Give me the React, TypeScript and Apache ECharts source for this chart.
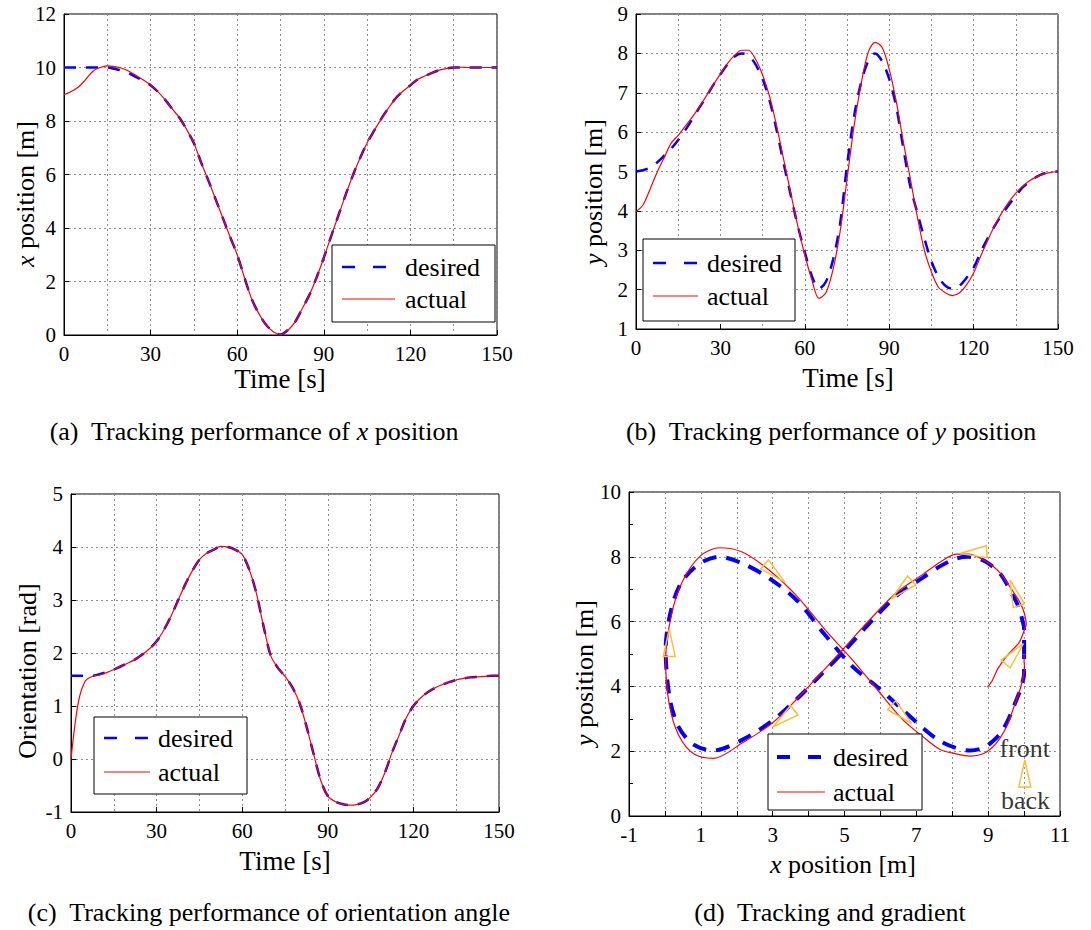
import React, { useEffect, useRef } from "react";
import * as echarts from "echarts";

const TIME = [0, 2.5, 5, 7.5, 10, 12.5, 15, 17.5, 20, 22.5, 25, 27.5, 30, 32.5, 35, 37.5, 40, 42.5, 45, 47.5, 50, 52.5, 55, 57.5, 60, 62.5, 65, 67.5, 70, 72.5, 75, 77.5, 80, 82.5, 85, 87.5, 90, 92.5, 95, 97.5, 100, 102.5, 105, 107.5, 110, 112.5, 115, 117.5, 120, 122.5, 125, 127.5, 130, 132.5, 135, 137.5, 140, 142.5, 145, 147.5, 150];

const X_DESIRED = [10, 10, 10, 10, 10, 10, 10, 9.95, 9.88, 9.78, 9.64, 9.5, 9.34, 9.1, 8.8, 8.45, 8.12, 7.68, 7.17, 6.45, 5.78, 5.08, 4.38, 3.68, 3.0, 2.15, 1.35, 0.8, 0.38, 0.13, 0.02, 0.18, 0.48, 0.98, 1.5, 2.15, 2.89, 3.68, 4.45, 5.22, 5.95, 6.6, 7.18, 7.65, 8.1, 8.5, 8.86, 9.12, 9.34, 9.55, 9.68, 9.8, 9.9, 9.96, 10, 10, 10, 10, 10, 10, 10];
const X_ACTUAL = [8.98, 9.1, 9.27, 9.55, 9.86, 10.0, 10.06, 10.03, 9.97, 9.86, 9.7, 9.53, 9.35, 9.1, 8.8, 8.45, 8.12, 7.68, 7.17, 6.45, 5.78, 5.08, 4.38, 3.68, 3.0, 2.15, 1.35, 0.8, 0.38, 0.12, 0.02, 0.17, 0.48, 0.98, 1.5, 2.15, 2.89, 3.68, 4.45, 5.22, 5.95, 6.6, 7.18, 7.65, 8.1, 8.5, 8.86, 9.12, 9.34, 9.55, 9.68, 9.8, 9.9, 9.96, 10, 10.01, 10, 10, 10, 10, 10];

const Y_DESIRED = [5.0, 5.03, 5.1, 5.23, 5.4, 5.58, 5.8, 6.05, 6.33, 6.62, 6.9, 7.2, 7.47, 7.72, 7.92, 8.0, 7.95, 7.72, 7.35, 6.8, 6.05, 5.2, 4.4, 3.62, 2.95, 2.35, 2.02, 2.2, 2.75, 3.65, 5.15, 6.4, 7.25, 7.8, 8.0, 7.8, 7.35, 6.65, 5.6, 4.62, 3.95, 3.3, 2.72, 2.32, 2.1, 2.02, 2.1, 2.3, 2.55, 2.95, 3.3, 3.62, 3.9, 4.15, 4.38, 4.6, 4.75, 4.87, 4.95, 4.99, 5.0];
const Y_ACTUAL = [3.98, 4.15, 4.55, 4.98, 5.35, 5.72, 5.92, 6.15, 6.38, 6.64, 6.92, 7.2, 7.48, 7.74, 7.95, 8.08, 8.08, 7.85, 7.45, 6.9, 6.15, 5.3, 4.45, 3.62, 2.88, 2.25, 1.78, 1.92, 2.5, 3.45, 4.8, 6.15, 7.22, 8.02, 8.28, 8.15, 7.6, 6.78, 5.76, 4.82, 3.85, 3.0, 2.45, 2.06, 1.92, 1.85, 1.92, 2.12, 2.42, 2.85, 3.25, 3.63, 3.95, 4.22, 4.45, 4.63, 4.77, 4.87, 4.94, 4.98, 5.0];

const ORI_DESIRED = [1.57, 1.57, 1.57, 1.57, 1.6, 1.64, 1.69, 1.75, 1.81, 1.88, 1.97, 2.08, 2.22, 2.43, 2.69, 2.99, 3.29, 3.55, 3.76, 3.88, 3.95, 4.01, 4.0, 3.95, 3.86, 3.57, 3.12, 2.5, 1.95, 1.72, 1.56, 1.36, 1.07, 0.62, 0.1, -0.4, -0.7, -0.8, -0.85, -0.87, -0.86, -0.82, -0.72, -0.55, -0.26, 0.12, 0.45, 0.78, 1.0, 1.15, 1.26, 1.34, 1.4, 1.45, 1.49, 1.52, 1.54, 1.55, 1.56, 1.57, 1.57];
const ORI_ACTUAL = [0.0, 1.05, 1.47, 1.56, 1.59, 1.63, 1.69, 1.75, 1.81, 1.88, 1.97, 2.08, 2.22, 2.43, 2.69, 2.99, 3.29, 3.55, 3.76, 3.88, 3.95, 4.01, 4.0, 3.95, 3.86, 3.57, 3.12, 2.5, 1.95, 1.72, 1.56, 1.36, 1.07, 0.62, 0.1, -0.4, -0.7, -0.8, -0.85, -0.87, -0.86, -0.82, -0.72, -0.55, -0.26, 0.12, 0.45, 0.78, 1.0, 1.15, 1.26, 1.34, 1.4, 1.45, 1.49, 1.52, 1.54, 1.55, 1.56, 1.57, 1.57];

// heading markers in (d): apex position and heading angle (degrees, screen, counter-clockwise from +x)
const ARROW_X = [0.12, 3.34, 3.01, 6.87, 6.31, 8.21, 9.61, 9.98];
const ARROW_Y = [5.76, 7.22, 2.75, 2.86, 6.71, 8.1, 7.28, 5.32];
const ARROW_DIR = [90, -41, -142, -42, -138, -176, 109, 49];
const KEY_ARROW = [10.02, 1.73, 90];
const KEY_LABELS = [
  [10.02, 2.09, "front"],
  [10.04, 0.47, "back"],
];

const FONT = "Liberation Serif";
const BLUE = "#0000ff";
const RED = "#ff0000";
const ARROW_COLOR = "#f7bf3a";

const pairs = (xs: number[], ys: number[]) => xs.map((x, i) => [x, ys[i]]);

const gridLine = { color: "#8f8f8f", type: [2, 3] as number[], width: 1 };

function timeAxis(gridIndex: number) {
  return {
    type: "value",
    gridIndex,
    min: 0,
    max: 150,
    interval: 30,
    axisLine: { show: true, onZero: false, lineStyle: { color: "#000", width: 1 } },
    axisTick: { show: true, inside: true, length: 5, lineStyle: { color: "#000" } },
    axisLabel: { fontFamily: FONT, fontSize: 21, color: "#000", margin: 8 },
    splitLine: { show: true, lineStyle: gridLine },
    minorTick: { show: false, splitNumber: 2 },
    minorSplitLine: { show: true, lineStyle: gridLine },
  };
}

function valAxis(gridIndex: number, min: number, max: number, interval: number, extra: any = {}) {
  return {
    type: "value",
    gridIndex,
    min,
    max,
    interval,
    axisLine: { show: true, onZero: false, lineStyle: { color: "#000", width: 1 } },
    axisTick: { show: true, inside: true, length: 5, lineStyle: { color: "#000" } },
    axisLabel: { fontFamily: FONT, fontSize: 21, color: "#000", margin: 8 },
    splitLine: { show: true, lineStyle: gridLine },
    ...extra,
  };
}

function lineSeries(idx: number, data: number[][], color: string, width: number, dash: any, z: number) {
  return {
    type: "line",
    xAxisIndex: idx,
    yAxisIndex: idx,
    data,
    symbol: "none",
    showSymbol: false,
    smooth: 0.3,
    clip: true,
    lineStyle: { color, width, type: dash },
    z,
    silent: true,
  };
}

function legendBox(
  box: [number, number, number, number],
  lineX: [number, number],
  yDes: number,
  yAct: number,
  textX: number,
  desWidth: number
) {
  return [
    {
      type: "rect",
      z: 100,
      shape: { x: box[0], y: box[1], width: box[2], height: box[3] },
      style: { fill: "#fff", stroke: "#000", lineWidth: 1 },
    },
    {
      type: "line",
      z: 101,
      shape: { x1: lineX[0], y1: yDes, x2: lineX[1], y2: yDes },
      style: { stroke: BLUE, lineWidth: desWidth, lineDash: [13, 18] },
    },
    {
      type: "line",
      z: 101,
      shape: { x1: lineX[0], y1: yAct, x2: lineX[1], y2: yAct },
      style: { stroke: RED, lineWidth: 1.2 },
    },
    {
      type: "text",
      z: 101,
      x: textX,
      y: yDes,
      style: { text: "desired", fontFamily: FONT, fontSize: 26, fill: "#000", textAlign: "left", textVerticalAlign: "middle" },
    },
    {
      type: "text",
      z: 101,
      x: textX,
      y: yAct,
      style: { text: "actual", fontFamily: FONT, fontSize: 26, fill: "#000", textAlign: "left", textVerticalAlign: "middle" },
    },
  ];
}

function label(text: string, x: number, y: number, size: number, rotate = false) {
  return {
    type: "text",
    z: 100,
    x,
    y,
    rotation: rotate ? Math.PI / 2 : 0,
    style: {
      text,
      fontFamily: FONT,
      fontSize: size,
      fill: "#000",
      textAlign: "center",
      textVerticalAlign: "middle",
      rich: { i: { fontStyle: "italic", fontFamily: FONT, fontSize: size, fill: "#000" } },
    },
  };
}

function arrowRender(params: any, api: any) {
  const p = api.coord([api.value(0), api.value(1)]);
  const a = (api.value(2) * Math.PI) / 180;
  const dx = Math.cos(a);
  const dy = -Math.sin(a);
  const L = 27;
  const W = 12;
  const bx = p[0] - dx * L;
  const by = p[1] - dy * L;
  const px = -dy;
  const py = dx;
  return {
    type: "polygon",
    shape: {
      points: [
        [p[0], p[1]],
        [bx + (px * W) / 2, by + (py * W) / 2],
        [bx - (px * W) / 2, by - (py * W) / 2],
      ],
    },
    style: { fill: "none", stroke: ARROW_COLOR, lineWidth: 1.5 },
  };
}

export default function App() {
  const ref = useRef<HTMLDivElement>(null);

  useEffect(() => {
    if (!ref.current) return;
    const chart = echarts.init(ref.current, undefined, { renderer: "svg" });

    const option: any = {
      animation: false,
      backgroundColor: "#fff",
      textStyle: { fontFamily: FONT },
      grid: [
        { left: 64, top: 14, width: 433, height: 321, show: true, borderColor: "#000", borderWidth: 1, backgroundColor: "transparent" },
        { left: 636, top: 14, width: 422, height: 315, show: true, borderColor: "#000", borderWidth: 1, backgroundColor: "transparent" },
        { left: 71, top: 494, width: 428, height: 318, show: true, borderColor: "#000", borderWidth: 1, backgroundColor: "transparent" },
        { left: 629, top: 492, width: 431, height: 324, show: true, borderColor: "#000", borderWidth: 1, backgroundColor: "transparent" },
      ],
      xAxis: [
        timeAxis(0),
        timeAxis(1),
        timeAxis(2),
        valAxis(3, -1, 11, 1, {
          axisLabel: {
            fontFamily: FONT,
            fontSize: 21,
            color: "#000",
            margin: 8,
            formatter: (v: number) => (Math.round(v) % 2 !== 0 ? String(v) : ""),
          },
        }),
      ],
      yAxis: [
        valAxis(0, 0, 12, 2),
        valAxis(1, 1, 9, 1),
        valAxis(2, -1, 5, 1),
        valAxis(3, 0, 10, 2, {
          minorTick: { show: true, splitNumber: 2, length: 4, lineStyle: { color: "#000" } },
        }),
      ],
      series: [
        lineSeries(0, pairs(TIME, X_DESIRED), BLUE, 2.5, [12, 10], 2),
        lineSeries(0, pairs(TIME, X_ACTUAL), RED, 1.2, "solid", 3),
        lineSeries(1, pairs(TIME, Y_DESIRED), BLUE, 2.5, [12, 10], 2),
        lineSeries(1, pairs(TIME, Y_ACTUAL), RED, 1.2, "solid", 3),
        lineSeries(2, pairs(TIME, ORI_DESIRED), BLUE, 2.5, [12, 10], 2),
        lineSeries(2, pairs(TIME, ORI_ACTUAL), RED, 1.2, "solid", 3),
        lineSeries(3, pairs(X_DESIRED, Y_DESIRED), BLUE, 4, [14, 10], 2),
        lineSeries(3, pairs(X_ACTUAL, Y_ACTUAL), RED, 1.2, "solid", 3),
        {
          type: "custom",
          coordinateSystem: "cartesian2d",
          xAxisIndex: 3,
          yAxisIndex: 3,
          renderItem: arrowRender,
          data: [...ARROW_X.map((x, i) => [x, ARROW_Y[i], ARROW_DIR[i]]), KEY_ARROW],
          clip: false,
          silent: true,
          z: 4,
        },
        {
          type: "scatter",
          xAxisIndex: 3,
          yAxisIndex: 3,
          symbolSize: 1,
          itemStyle: { color: "rgba(0,0,0,0)" },
          data: KEY_LABELS,
          silent: true,
          z: 5,
          label: {
            show: true,
            position: "inside",
            formatter: (p: any) => p.data[2],
            fontFamily: FONT,
            fontSize: 26,
            color: "#000",
          },
        },
      ],
      graphic: [
        ...legendBox([332, 245, 163, 77], [342, 395], 267, 299, 405, 2.5),
        ...legendBox([643, 239, 152, 82], [653, 698], 263, 296, 707, 2.5),
        ...legendBox([94, 717, 153, 77], [104, 150], 738, 772, 158, 2.5),
        ...legendBox([768, 734, 154, 76], [777, 825], 757, 792, 833, 4),
        label("{i|x} position [m]", 25, 194, 26, true),
        label("{i|y} position [m]", 593, 192, 26, true),
        label("Orientation [rad]", 27, 671, 26, true),
        label("{i|y} position [m]", 584, 673, 26, true),
        label("Time [s]", 280, 379, 27),
        label("Time [s]", 848, 378, 27),
        label("Time [s]", 285, 861, 27),
        label("{i|x} position [m]", 843, 864, 26),
        label("(a)  Tracking performance of {i|x} position", 254, 431, 26),
        label("(b)  Tracking performance of {i|y} position", 831, 431, 26),
        label("(c)  Tracking performance of orientation angle", 269, 912, 26),
        label("(d)  Tracking and gradient", 830, 912, 26),
      ],
    };

    chart.setOption(option);
    return () => {
      chart.dispose();
    };
  }, []);

  return (
    <div
      ref={ref}
      style={{ position: "absolute", left: 0, top: 0, width: 1091, height: 930, background: "#fff" }}
    />
  );
}
